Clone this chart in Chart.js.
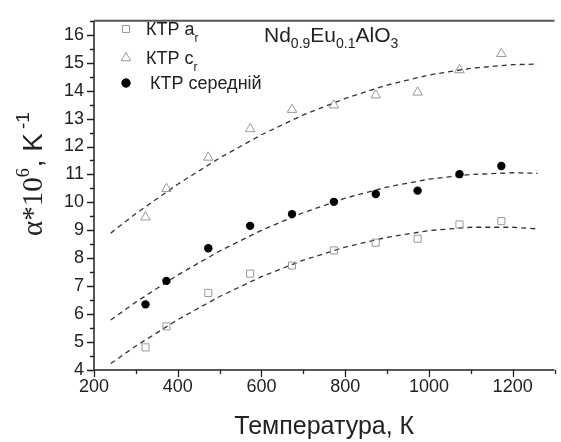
<!DOCTYPE html>
<html>
<head>
<meta charset="utf-8">
<script src="https://cdn.jsdelivr.net/npm/chart.js@4/dist/chart.umd.min.js"></script>
<style>
  html, body { margin: 0; padding: 0; background: #fff; }
  #wrap { width: 561px; height: 442px; }
</style>
</head>
<body>
<div id="wrap"><canvas id="ktp"></canvas></div>
<script>
// measured points, temperature in K
const temps = [323, 373, 473, 573, 673, 773, 873, 973, 1073, 1173];
const ktpA = [4.81, 5.56, 6.76, 7.45, 7.74, 8.28, 8.56, 8.70, 9.21, 9.33];
const ktpC = [9.47, 10.49, 11.61, 12.63, 13.32, 13.48, 13.84, 13.94, 14.74, 15.32];
const ktpMean = [6.35, 7.19, 8.36, 9.16, 9.58, 10.02, 10.30, 10.42, 11.01, 11.30];

// fitted curves (dashed)
const fitT = [240, 300, 400, 500, 600, 700, 800, 900, 1000, 1100, 1200, 1260];
const fitA = [4.23, 4.86, 5.80, 6.63, 7.34, 7.93, 8.40, 8.75, 8.99, 9.11, 9.11, 9.05];
const fitC = [8.90, 9.60, 10.65, 11.59, 12.42, 13.13, 13.72, 14.20, 14.56, 14.80, 14.93, 14.95];
const fitMean = [5.79, 6.43, 7.40, 8.26, 9.00, 9.63, 10.15, 10.55, 10.83, 11.00, 11.06, 11.04];

const xTicks = [200, 400, 600, 800, 1000, 1200];

const SANS = "'Liberation Sans', Arial, sans-serif";
const SERIF = "'Liberation Serif', 'Times New Roman', serif";

function pts(xs, ys) {
  return xs.map((x, i) => ({ x: x, y: ys[i] }));
}

function fitLine(data) {
  return {
    data: data,
    showLine: true,
    pointRadius: 0,
    borderColor: "#333",
    borderWidth: 1.3,
    borderDash: [5, 4],
    fill: false
  };
}

// draws text pieces with sub/superscripts, returns end x
function runText(ctx, x, y, parts) {
  parts.forEach(p => {
    ctx.font = p.font;
    ctx.fillText(p.t, x, y + (p.dy || 0));
    x += ctx.measureText(p.t).width + (p.gap || 0);
  });
  return x;
}

const decor = {
  id: "decor",
  afterDraw(chart) {
    const ctx = chart.ctx;
    const xs = chart.scales.x;
    const ys = chart.scales.y;
    const a = chart.chartArea;
    ctx.save();

    // frame
    ctx.strokeStyle = "#222";
    ctx.lineWidth = 1.5;
    ctx.beginPath();
    ctx.moveTo(a.left, a.top);
    ctx.lineTo(a.left, a.bottom);
    ctx.lineTo(a.right, a.bottom);
    ctx.stroke();
    ctx.strokeStyle = "#555";
    ctx.lineWidth = 2;
    ctx.beginPath();
    ctx.moveTo(a.left, a.top);
    ctx.lineTo(a.right, a.top);
    ctx.stroke();

    // tick marks, major and minor
    ctx.strokeStyle = "#222";
    ctx.lineWidth = 1.3;
    ctx.beginPath();
    for (let v = 200; v <= 1300; v += 100) {
      const px = Math.round(xs.getPixelForValue(v)) + 0.5;
      const len = v % 200 === 0 ? 7 : 4;
      ctx.moveTo(px, a.bottom);
      ctx.lineTo(px, a.bottom + len);
    }
    for (let v = 4; v <= 16.5; v += 0.5) {
      const py = Math.round(ys.getPixelForValue(v)) + 0.5;
      const len = Number.isInteger(v) ? 7 : 4;
      ctx.moveTo(a.left - len, py);
      ctx.lineTo(a.left, py);
    }
    ctx.stroke();

    ctx.fillStyle = "#222";
    ctx.textBaseline = "alphabetic";
    ctx.textAlign = "left";

    // legend
    const lx = 126;
    const rows = [
      { y: 29, ds: 0, parts: [{ t: "КТР a", font: "18px " + SANS }, { t: "r", font: "12px " + SANS, dy: 7 }] },
      { y: 58, ds: 1, parts: [{ t: "КТР c", font: "18px " + SANS }, { t: "r", font: "12px " + SANS, dy: 7 }] },
      { y: 83, ds: 2, parts: [{ t: "КТР середній", font: "18px " + SANS }], tx: 150 }
    ];
    rows.forEach(r => {
      const ds = chart.data.datasets[r.ds];
      ctx.strokeStyle = ds.borderColor;
      ctx.fillStyle = ds.pointBackgroundColor;
      ctx.lineWidth = 1;
      Chart.helpers.drawPoint(ctx, { pointStyle: ds.pointStyle, radius: ds.pointRadius, borderWidth: 1 }, lx, r.y);
      ctx.fillStyle = "#222";
      runText(ctx, r.tx || 146, r.y + 6, r.parts);
    });

    // compound name
    runText(ctx, 264, 42, [
      { t: "Nd", font: "21px " + SANS },
      { t: "0.9", font: "14px " + SANS, dy: 6 },
      { t: "Eu", font: "21px " + SANS },
      { t: "0.1", font: "14px " + SANS, dy: 6 },
      { t: "AlO", font: "21px " + SANS },
      { t: "3", font: "14px " + SANS, dy: 6 }
    ]);

    // x title
    ctx.font = "25px " + SANS;
    ctx.textAlign = "center";
    ctx.fillText("Температура, К", (a.left + a.right) / 2, 434);

    // y title, rotated
    ctx.translate(42, 174);
    ctx.rotate(-Math.PI / 2);
    ctx.textAlign = "left";
    const parts = [
      { t: "α*10", font: "29px " + SERIF },
      { t: "6", font: "18px " + SERIF, dy: -13, gap: 1 },
      { t: ", K", font: "28px " + SANS, gap: 4 },
      { t: "-1", font: "19px " + SANS, dy: -13 }
    ];
    let w = 0;
    parts.forEach(p => { ctx.font = p.font; w += ctx.measureText(p.t).width + (p.gap || 0); });
    runText(ctx, -w / 2, 0, parts);

    ctx.restore();
  }
};

new Chart(document.getElementById("ktp"), {
  type: "scatter",
  data: {
    datasets: [
      {
        data: pts(temps, ktpA),
        pointStyle: "rect",
        pointRadius: 5,
        pointBorderWidth: 1,
        borderColor: "#999",
        pointBackgroundColor: "rgba(255,255,255,0)",
        backgroundColor: "rgba(255,255,255,0)"
      },
      {
        data: pts(temps, ktpC),
        pointStyle: "triangle",
        pointRadius: 5.5,
        pointBorderWidth: 1,
        borderColor: "#999",
        pointBackgroundColor: "rgba(255,255,255,0)",
        backgroundColor: "rgba(255,255,255,0)"
      },
      {
        data: pts(temps, ktpMean),
        pointStyle: "circle",
        pointRadius: 4.2,
        pointBorderWidth: 0,
        borderColor: "#000",
        pointBackgroundColor: "#000",
        backgroundColor: "#000"
      },
      fitLine(pts(fitT, fitA)),
      fitLine(pts(fitT, fitC)),
      fitLine(pts(fitT, fitMean))
    ]
  },
  options: {
    responsive: true,
    maintainAspectRatio: false,
    animation: false,
    layout: { padding: { top: 13, right: 0, left: 0, bottom: 0 } },
    plugins: {
      legend: { display: false },
      tooltip: { enabled: false }
    },
    scales: {
      x: {
        type: "linear",
        min: 200,
        max: 1300,
        afterFit(scale) { scale.height = 72; },
        afterBuildTicks(scale) { scale.ticks = xTicks.map(v => ({ value: v })); },
        grid: { display: false, drawTicks: false },
        border: { display: false },
        ticks: {
          padding: 6,
          maxRotation: 0,
          color: "#222",
          font: { family: SANS, size: 18 },
          callback: v => String(v)
        }
      },
      y: {
        min: 4,
        max: 16.5,
        afterFit(scale) { scale.width = 94; },
        grid: { display: false, drawTicks: false },
        border: { display: false },
        ticks: {
          stepSize: 1,
          includeBounds: false,
          padding: 10,
          color: "#222",
          font: { family: SANS, size: 18 }
        }
      }
    }
  },
  plugins: [decor]
});
</script>
</body>
</html>
